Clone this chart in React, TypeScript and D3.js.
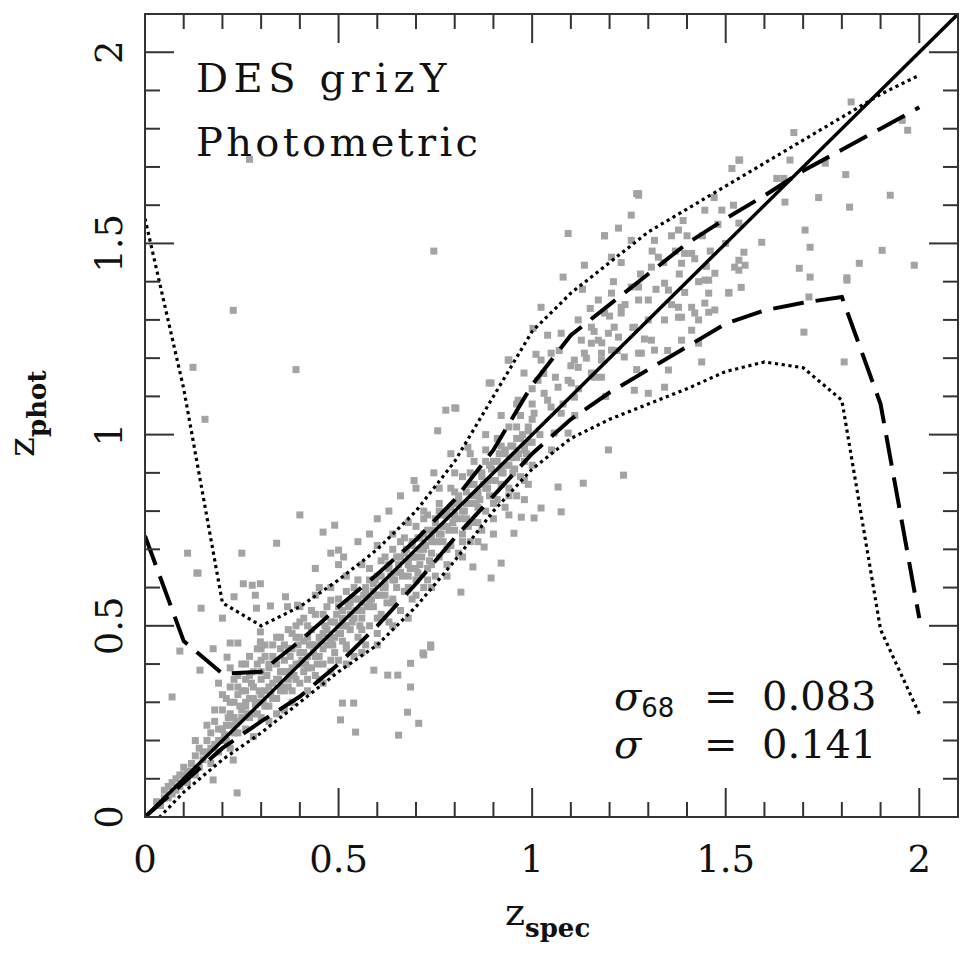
import React from "react";
import * as d3 from "d3";

// bin grid of the running statistics
const zGrid = [0, 0.1, 0.2, 0.3, 0.4, 0.5, 0.6, 0.7, 0.8, 0.9, 1.0, 1.1, 1.2, 1.3, 1.4, 1.5, 1.6, 1.7, 1.8, 1.9, 2.0];
// 68% limits (dashed) and 95% limits (dotted)
const upper68 = [0.735, 0.46, 0.375, 0.38, 0.46, 0.55, 0.635, 0.725, 0.83, 0.96, 1.13, 1.26, 1.34, 1.42, 1.5, 1.565, 1.625, 1.69, 1.745, 1.8, 1.856];
const lower68 = [0, 0.09, 0.18, 0.25, 0.315, 0.4, 0.5, 0.61, 0.73, 0.84, 0.95, 1.04, 1.11, 1.17, 1.23, 1.29, 1.325, 1.345, 1.36, 1.08, 0.52];
const upper95 = [1.565, 1.12, 0.56, 0.5, 0.55, 0.62, 0.7, 0.8, 0.93, 1.1, 1.27, 1.37, 1.45, 1.53, 1.59, 1.65, 1.71, 1.77, 1.83, 1.89, 1.94];
const lower95 = [-0.04, 0.065, 0.15, 0.22, 0.3, 0.38, 0.45, 0.55, 0.67, 0.8, 0.91, 0.99, 1.04, 1.08, 1.12, 1.165, 1.19, 1.175, 1.09, 0.49, 0.27];

const tickValues = [0, 0.5, 1, 1.5, 2];
const tickLabels = ["0", "0.5", "1", "1.5", "2"];
const minorTicks = d3.range(0, 21).map((i) => i / 10);

const statLabels = ["68", ""];
const statValues = ["0.083", "0.141"];

// galaxies: [z_spec, z_phot]
const galaxies: [number, number][] = [
  // low-z tail
  [0.03, 0.04], [0.05, 0.05], [0.06, 0.08], [0.07, 0.06], [0.08, 0.1], [0.09, 0.08], [0.1, 0.11], [0.1, 0.13],
  [0.11, 0.09], [0.12, 0.14], [0.12, 0.12], [0.13, 0.16], [0.14, 0.13], [0.14, 0.18], [0.15, 0.15], [0.16, 0.2],
  [0.16, 0.17], [0.17, 0.14], [0.17, 0.22], [0.18, 0.19], [0.18, 0.25], [0.19, 0.17], [0.19, 0.23], [0.2, 0.28],
  [0.04, 0.03], [0.06, 0.05], [0.08, 0.07], [0.09, 0.11], [0.11, 0.12], [0.13, 0.11], [0.15, 0.17], [0.17, 0.18],
  [0.19, 0.2], [0.05, 0.07], [0.07, 0.09], [0.13, 0.2], [0.16, 0.24], [0.18, 0.28], [0.2, 0.32], [0.23, 0.36],
  [0.26, 0.4], [0.19, 0.35], [0.22, 0.39],
  [0.2, 0.2], [0.21, 0.24], [0.21, 0.31], [0.22, 0.18], [0.22, 0.27], [0.22, 0.34], [0.23, 0.22], [0.23, 0.3],
  [0.24, 0.37], [0.24, 0.25], [0.25, 0.33], [0.25, 0.28], [0.25, 0.4], [0.26, 0.23], [0.26, 0.36], [0.27, 0.31],
  [0.27, 0.42], [0.28, 0.27], [0.28, 0.38], [0.28, 0.34], [0.29, 0.44], [0.29, 0.3], [0.3, 0.36], [0.3, 0.41],
  [0.3, 0.26], [0.31, 0.33], [0.31, 0.45], [0.32, 0.39], [0.32, 0.29], [0.33, 0.42], [0.33, 0.35], [0.34, 0.31],
  [0.34, 0.47], [0.35, 0.38], [0.35, 0.44], [0.36, 0.33], [0.36, 0.41], [0.37, 0.49], [0.37, 0.36], [0.38, 0.44],
  [0.38, 0.3], [0.39, 0.4], [0.39, 0.47], [0.4, 0.35], [0.4, 0.43], [0.4, 0.51], [0.41, 0.38], [0.41, 0.46],
  [0.42, 0.33], [0.42, 0.42], [0.43, 0.49], [0.43, 0.39], [0.44, 0.45], [0.44, 0.53], [0.45, 0.36], [0.45, 0.42],
  [0.46, 0.48], [0.46, 0.4], [0.47, 0.55], [0.47, 0.45], [0.48, 0.38], [0.48, 0.51], [0.49, 0.43], [0.49, 0.47],
  [0.5, 0.57], [0.5, 0.41], [0.5, 0.5], [0.51, 0.46], [0.51, 0.54], [0.52, 0.44], [0.52, 0.59], [0.53, 0.49],
  [0.53, 0.53], [0.54, 0.42], [0.54, 0.57], [0.55, 0.47], [0.55, 0.62], [0.56, 0.52], [0.56, 0.56], [0.57, 0.45],
  [0.57, 0.6], [0.58, 0.5], [0.58, 0.65], [0.59, 0.55], [0.59, 0.59], [0.6, 0.48], [0.6, 0.63], [0.61, 0.53],
  [0.61, 0.67], [0.62, 0.58], [0.62, 0.61], [0.63, 0.51], [0.63, 0.65], [0.64, 0.56], [0.64, 0.7], [0.65, 0.6],
  [0.65, 0.64], [0.66, 0.54], [0.66, 0.68], [0.67, 0.59], [0.67, 0.73], [0.68, 0.63], [0.68, 0.67], [0.69, 0.57],
  [0.69, 0.71], [0.7, 0.62], [0.7, 0.76], [0.71, 0.66], [0.71, 0.7], [0.72, 0.6], [0.72, 0.74], [0.73, 0.65],
  [0.73, 0.79], [0.74, 0.69], [0.74, 0.73], [0.75, 0.63], [0.75, 0.77], [0.76, 0.68], [0.76, 0.82], [0.77, 0.72],
  [0.77, 0.76], [0.78, 0.66], [0.78, 0.8], [0.79, 0.71], [0.79, 0.86], [0.8, 0.75], [0.8, 0.79], [0.81, 0.69],
  [0.81, 0.84], [0.82, 0.74], [0.82, 0.89], [0.83, 0.78], [0.83, 0.82], [0.84, 0.72], [0.84, 0.87], [0.85, 0.77],
  [0.85, 0.93], [0.86, 0.81], [0.86, 0.85], [0.87, 0.75], [0.87, 0.9], [0.88, 0.8], [0.88, 0.96], [0.89, 0.84],
  [0.89, 0.88], [0.9, 0.78], [0.9, 0.93], [0.91, 0.83], [0.91, 0.99], [0.92, 0.87], [0.92, 0.91], [0.93, 0.81],
  [0.93, 0.96], [0.94, 0.86], [0.94, 1.02], [0.95, 0.9], [0.95, 0.94], [0.96, 0.84], [0.96, 0.99], [0.97, 0.89],
  [0.97, 1.05], [0.98, 0.93], [0.98, 0.97], [0.99, 0.87], [0.99, 1.02], [1.0, 0.92], [1.0, 1.08],
  // core of the relation
  [0.205, 0.215], [0.215, 0.26], [0.235, 0.245], [0.245, 0.29], [0.265, 0.27], [0.275, 0.35], [0.285, 0.295],
  [0.295, 0.33], [0.305, 0.3], [0.315, 0.37], [0.325, 0.32], [0.345, 0.36], [0.355, 0.34], [0.365, 0.38],
  [0.375, 0.42], [0.385, 0.37], [0.395, 0.45], [0.405, 0.41], [0.415, 0.4], [0.425, 0.45], [0.435, 0.43],
  [0.445, 0.4], [0.455, 0.46], [0.465, 0.5], [0.475, 0.47], [0.485, 0.45], [0.495, 0.53], [0.505, 0.48],
  [0.515, 0.5], [0.525, 0.55], [0.535, 0.51], [0.545, 0.54], [0.555, 0.5], [0.565, 0.58], [0.575, 0.55],
  [0.585, 0.57], [0.595, 0.62], [0.605, 0.58], [0.615, 0.6], [0.625, 0.56], [0.635, 0.63], [0.645, 0.62],
  [0.655, 0.66], [0.665, 0.63], [0.675, 0.7], [0.685, 0.65], [0.695, 0.68], [0.705, 0.73], [0.715, 0.68],
  [0.725, 0.71], [0.735, 0.67], [0.745, 0.75], [0.755, 0.72], [0.765, 0.74], [0.775, 0.79], [0.785, 0.75],
  [0.795, 0.77], [0.805, 0.82], [0.815, 0.78], [0.825, 0.8], [0.835, 0.76], [0.845, 0.84], [0.855, 0.82],
  [0.865, 0.83], [0.875, 0.87], [0.885, 0.86], [0.895, 0.91], [0.905, 0.88], [0.915, 0.95], [0.925, 0.9],
  [0.935, 0.92], [0.945, 0.97], [0.955, 0.91], [0.965, 0.95], [0.975, 1.0], [0.985, 0.95], [0.995, 0.98],
  [0.2, 0.23], [0.21, 0.2], [0.22, 0.24], [0.23, 0.26], [0.24, 0.22], [0.25, 0.26], [0.26, 0.29], [0.27, 0.26],
  [0.28, 0.31], [0.29, 0.27], [0.3, 0.32], [0.31, 0.29], [0.32, 0.34], [0.33, 0.31], [0.34, 0.36], [0.35, 0.33],
  [0.36, 0.38], [0.37, 0.34], [0.38, 0.39], [0.39, 0.36], [0.4, 0.4], [0.41, 0.43], [0.42, 0.39], [0.43, 0.45],
  [0.44, 0.42], [0.45, 0.47], [0.46, 0.44], [0.47, 0.49], [0.48, 0.46], [0.49, 0.51], [0.5, 0.48], [0.51, 0.52],
  [0.52, 0.5], [0.53, 0.56], [0.54, 0.52], [0.55, 0.57], [0.56, 0.54], [0.57, 0.59], [0.58, 0.56], [0.59, 0.61],
  [0.6, 0.58], [0.61, 0.63], [0.62, 0.6], [0.63, 0.66], [0.64, 0.62], [0.65, 0.68], [0.66, 0.64], [0.67, 0.69],
  [0.68, 0.66], [0.69, 0.72], [0.7, 0.68], [0.71, 0.73], [0.72, 0.7], [0.73, 0.75], [0.74, 0.72], [0.75, 0.78],
  [0.76, 0.74], [0.77, 0.79], [0.78, 0.76], [0.79, 0.81], [0.8, 0.78], [0.81, 0.83], [0.82, 0.8], [0.83, 0.85],
  [0.84, 0.82], [0.85, 0.87], [0.86, 0.84], [0.87, 0.89], [0.88, 0.86], [0.89, 0.92], [0.9, 0.88], [0.91, 0.93],
  [0.92, 0.9], [0.93, 0.95], [0.94, 0.92], [0.95, 0.97], [0.96, 0.94], [0.97, 0.99], [0.98, 0.96], [0.99, 1.01],
  [1.0, 0.98],
  [0.24, 0.34], [0.27, 0.37], [0.29, 0.4], [0.31, 0.42], [0.33, 0.45], [0.35, 0.47], [0.37, 0.44], [0.39, 0.5],
  [0.41, 0.52], [0.43, 0.54], [0.26, 0.3], [0.3, 0.44], [0.34, 0.4], [0.38, 0.48], [0.42, 0.5],
  // wings of the band
  [0.22, 0.3], [0.24, 0.32], [0.26, 0.33], [0.28, 0.21], [0.3, 0.38], [0.32, 0.4], [0.34, 0.27], [0.36, 0.45],
  [0.38, 0.33], [0.4, 0.47], [0.42, 0.47], [0.44, 0.37], [0.46, 0.53], [0.48, 0.41], [0.5, 0.55], [0.52, 0.45],
  [0.54, 0.6], [0.56, 0.49], [0.58, 0.62], [0.6, 0.52], [0.62, 0.68], [0.64, 0.57], [0.66, 0.72], [0.68, 0.6],
  [0.7, 0.65], [0.72, 0.78], [0.74, 0.66], [0.76, 0.8], [0.78, 0.7], [0.8, 0.85], [0.82, 0.72], [0.84, 0.9],
  [0.86, 0.77], [0.88, 0.93], [0.9, 0.82], [0.92, 0.97], [0.94, 0.84], [0.96, 1.02], [0.98, 0.88], [1.0, 1.04],
  [0.32, 0.25], [0.36, 0.28], [0.42, 0.36], [0.46, 0.35], [0.52, 0.4], [0.56, 0.43], [0.6, 0.45], [0.64, 0.5],
  [0.68, 0.52], [0.7, 0.58], [0.74, 0.6], [0.78, 0.63], [0.82, 0.68], [0.86, 0.72], [0.9, 0.74], [0.94, 0.79],
  [0.98, 0.83], [0.4, 0.55], [0.44, 0.58], [0.48, 0.6], [0.52, 0.63], [0.56, 0.66], [0.6, 0.71], [0.64, 0.74],
  [0.68, 0.77], [0.72, 0.8], [0.76, 0.86], [0.8, 0.9], [0.84, 0.95], [0.88, 1.0], [0.92, 1.05], [0.96, 1.08],
  [1.0, 1.12], [0.55, 0.72], [0.6, 0.78], [0.63, 0.8], [0.58, 0.74], [0.66, 0.84], [0.5, 0.66], [0.45, 0.6],
  [0.7, 0.86], [0.777, 1.064], [0.8, 1.07], [0.756, 1.01], [0.695, 0.88], [0.746, 0.9], [0.79, 0.95], [0.834, 0.967],
  [0.938, 1.195], [0.889, 1.135], [0.803, 1.069], [0.94, 1.195], [0.894, 1.135],
  // scatter above the band at low z
  [0.4, 0.79], [0.49, 0.763], [0.46, 0.745], [0.34, 0.716], [0.25, 0.69], [0.11, 0.69], [0.134, 0.638],
  [0.254, 0.61], [0.277, 0.606], [0.298, 0.61], [0.285, 0.58], [0.23, 0.576], [0.145, 0.546], [0.288, 0.546],
  [0.2, 0.52], [0.09, 0.434], [0.142, 0.384], [0.176, 0.44], [0.22, 0.455], [0.24, 0.455], [0.212, 0.418],
  [0.298, 0.484], [0.298, 0.458], [0.363, 0.576], [0.324, 0.552], [0.368, 0.55], [0.394, 0.554], [0.48, 0.567],
  [0.44, 0.65], [0.48, 0.69], [0.5, 0.698], [0.513, 0.68], [0.07, 0.314], [0.137, 0.638],
  // scatter below the band
  [0.238, 0.063], [0.228, 0.149], [0.176, 0.097], [0.505, 0.254], [0.544, 0.222], [0.539, 0.298], [0.51, 0.298],
  [0.655, 0.214], [0.678, 0.274], [0.707, 0.245], [0.738, 0.444], [0.72, 0.424], [0.653, 0.371], [0.686, 0.34],
  [0.627, 0.371], [0.686, 0.402], [0.591, 0.384], [0.705, 0.638], [0.73, 0.62], [0.816, 0.588], [0.847, 0.654],
  [0.876, 0.706], [0.738, 0.45], [0.718, 0.429], [0.894, 0.625], [0.92, 0.664], [0.953, 0.742], [0.972, 0.784],
  [1.005, 0.782], [1.023, 0.808], [1.067, 0.863], [1.075, 0.798], [1.132, 0.873], [1.236, 0.894], [1.197, 0.96],
  // outliers
  [0.124, 1.176], [0.228, 1.325], [0.39, 1.17], [0.27, 1.72], [0.746, 1.48], [0.155, 1.04],
  // high-z part
  [1.02, 1.0], [1.04, 1.09], [1.06, 1.15], [1.08, 1.08], [1.1, 1.18], [1.12, 1.12], [1.14, 1.2], [1.16, 1.27],
  [1.18, 1.24], [1.2, 1.31], [1.22, 1.22], [1.24, 1.34], [1.26, 1.28], [1.28, 1.42], [1.3, 1.3], [1.32, 1.38],
  [1.34, 1.45], [1.36, 1.34], [1.38, 1.42], [1.4, 1.52], [1.42, 1.46], [1.44, 1.52], [1.46, 1.48], [1.48, 1.55],
  [1.5, 1.5], [1.52, 1.6], [1.03, 1.16], [1.07, 1.22], [1.11, 1.05], [1.15, 1.33], [1.19, 1.1], [1.23, 1.45],
  [1.27, 1.17], [1.31, 1.48], [1.35, 1.22], [1.39, 1.56], [1.43, 1.4], [1.47, 1.62], [1.05, 0.96], [1.13, 1.38],
  [1.21, 1.4], [1.29, 1.25], [1.37, 1.48], [1.45, 1.44],
  [1.264, 1.116], [1.342, 1.124], [1.3, 1.108], [1.438, 1.19], [1.43, 1.239], [1.386, 1.247], [1.42, 1.318],
  [1.472, 1.326], [1.386, 1.307], [1.264, 1.281], [1.23, 1.318], [1.197, 1.265], [1.153, 1.239], [1.119, 1.3],
  [1.179, 1.195], [1.161, 1.15], [1.282, 1.213], [1.316, 1.221], [1.352, 1.169], [1.109, 1.195], [1.093, 1.142],
  [1.109, 1.098], [1.534, 1.718], [1.516, 1.696], [1.275, 1.63], [1.256, 1.574], [1.093, 1.526], [1.187, 1.52],
  [1.223, 1.54], [1.135, 1.443], [1.08, 1.412], [1.023, 1.333], [1.002, 1.278], [1.36, 1.52], [1.394, 1.474],
  [1.446, 1.587], [1.49, 1.587], [1.534, 1.553], [1.547, 1.477], [1.534, 1.43], [1.472, 1.422], [1.446, 1.404],
  [1.456, 1.37], [1.508, 1.372], [1.54, 1.385], [1.326, 1.464], [1.308, 1.438], [1.342, 1.396], [1.394, 1.372],
  [1.412, 1.333], [1.378, 1.307], [1.342, 1.3], [1.412, 1.273], [1.446, 1.344], [1.256, 1.386], [1.275, 1.352],
  [1.205, 1.37], [1.171, 1.352], [1.187, 1.318], [1.212, 1.281], [1.223, 1.255], [1.171, 1.247], [1.153, 1.281],
  [1.127, 1.247], [1.135, 1.213], [1.179, 1.213], [1.205, 1.221], [1.238, 1.203], [1.275, 1.213], [1.308, 1.247],
  [1.119, 1.176], [1.153, 1.161], [1.179, 1.15], [1.101, 1.135], [1.067, 1.124], [1.031, 1.108], [1.049, 1.072],
  [1.075, 1.056], [1.005, 1.056], [1.093, 1.004], [1.057, 1.004], [0.964, 1.09], [0.979, 1.161], [1.023, 1.195],
  [1.049, 1.213], [1.075, 1.265], [1.04, 1.26], [1.01, 1.21], [1.015, 1.142],
  [1.27, 1.63], [1.187, 1.52], [1.676, 1.79], [1.536, 1.718], [1.824, 1.87], [1.97, 1.796], [1.956, 1.822],
  [1.925, 1.626], [1.81, 1.68], [1.82, 1.595], [1.718, 1.49], [1.705, 1.535], [1.904, 1.482], [1.987, 1.443],
  [1.845, 1.448], [1.813, 1.41], [1.718, 1.412], [1.69, 1.435], [1.74, 1.62], [1.757, 1.71], [1.653, 1.608],
  [1.593, 1.503], [1.55, 1.443], [1.523, 1.438], [1.508, 1.37], [1.456, 1.404], [1.412, 1.474], [1.386, 1.448],
  [1.378, 1.535], [1.316, 1.508], [1.256, 1.508], [1.205, 1.464], [1.23, 1.333], [1.275, 1.386], [1.3, 1.352],
  [1.352, 1.378], [1.378, 1.333], [1.43, 1.3], [1.456, 1.32], [1.534, 1.456], [1.632, 1.67], [1.65, 1.67],
  [1.666, 1.718], [1.275, 1.626], [1.715, 1.36], [1.813, 1.404], [1.702, 1.268], [1.806, 1.19],
];

const W = 966;
const H = 954;
const markSize = 7;

export default function App() {
  const x = d3.scaleLinear().domain([0, 2.1]).range([145, 958]);
  const y = d3.scaleLinear().domain([0, 2.1]).range([817, 14]);

  const curve = (vals: number[]) =>
    d3.line<number>().x((_, i) => x(zGrid[i])).y((d) => y(d))(vals) || "";

  const serif = "'DejaVu Serif', serif";
  const x0 = x.range()[0], x1 = x.range()[1];
  const y0 = y.range()[0], y1 = y.range()[1];
  const isMajor = (v: number) => Math.abs(v * 2 - Math.round(v * 2)) < 1e-6;
  const tickLen = (v: number) => (isMajor(v) ? 29 : 15);

  return (
    <svg width={W} height={H} style={{ position: "absolute", left: 0, top: 0, background: "#fff" }}>
      <defs>
        <clipPath id="plot">
          <rect x={x0} y={y1} width={x1 - x0} height={y0 - y1} />
        </clipPath>
      </defs>

      {/* galaxies */}
      <g fill="#a3a3a3">
        {galaxies.map(([zs, zp], i) => (
          <rect key={i} x={x(zs) - markSize / 2} y={y(zp) - markSize / 2} width={markSize} height={markSize} />
        ))}
      </g>

      <g clipPath="url(#plot)" fill="none" stroke="#000">
        <line x1={x(0)} y1={y(0)} x2={x(2.1)} y2={y(2.1)} strokeWidth={3.5} />
        <path d={curve(upper68)} strokeWidth={4} strokeDasharray="31 12" />
        <path d={curve(lower68)} strokeWidth={4} strokeDasharray="31 12" />
        <path d={curve(upper95)} strokeWidth={3.2} strokeDasharray="3.2 3.6" />
        <path d={curve(lower95)} strokeWidth={3.2} strokeDasharray="3.2 3.6" />
      </g>

      {/* frame and ticks */}
      <g stroke="#333" strokeWidth={2} fill="none">
        <rect x={x0} y={y1} width={x1 - x0} height={y0 - y1} />
        {minorTicks.map((v) => (
          <g key={v}>
            <line x1={x(v)} x2={x(v)} y1={y0} y2={y0 - tickLen(v)} />
            <line x1={x(v)} x2={x(v)} y1={y1} y2={y1 + tickLen(v)} />
            <line x1={x0} x2={x0 + tickLen(v)} y1={y(v)} y2={y(v)} />
            <line x1={x1} x2={x1 - tickLen(v)} y1={y(v)} y2={y(v)} />
          </g>
        ))}
      </g>

      {/* tick labels */}
      <g fontFamily={serif} fontSize={37} fill="#111">
        {tickValues.map((v, i) => (
          <text key={"x" + v} x={x(v)} y={872} textAnchor="middle">
            {tickLabels[i]}
          </text>
        ))}
        {tickValues.map((v, i) => (
          <text key={"y" + v} transform={`translate(122,${y(v)}) rotate(-90)`} textAnchor="middle">
            {tickLabels[i]}
          </text>
        ))}
      </g>

      {/* axis titles */}
      <text x={505} y={925} fontFamily={serif} fontSize={38} fill="#111">
        z
        <tspan dy={12} fontSize={26} fontWeight="bold">spec</tspan>
      </text>
      <text transform="translate(34,457) rotate(-90)" fontFamily={serif} fontSize={38} fill="#111">
        z
        <tspan dy={12} fontSize={26} fontWeight="bold">phot</tspan>
      </text>

      {/* annotations */}
      <g fontFamily={serif} fontSize={40} fill="#111">
        <text x={196} y={92} letterSpacing={5.5}>DES grizY</text>
        <text x={196} y={156} letterSpacing={3.3}>Photometric</text>
      </g>
      <g fontFamily={serif} fontSize={40} fill="#111">
        {statValues.map((v, i) => (
          <g key={v}>
            <text x={614} y={710 + i * 48} fontStyle="italic">
              σ
              <tspan dy={7} fontSize={26} fontStyle="normal" fontFamily="'DejaVu Sans', sans-serif">
                {statLabels[i]}
              </tspan>
            </text>
            <text x={704} y={710 + i * 48}>=</text>
            <text x={762} y={710 + i * 48}>{v}</text>
          </g>
        ))}
      </g>
    </svg>
  );
}
